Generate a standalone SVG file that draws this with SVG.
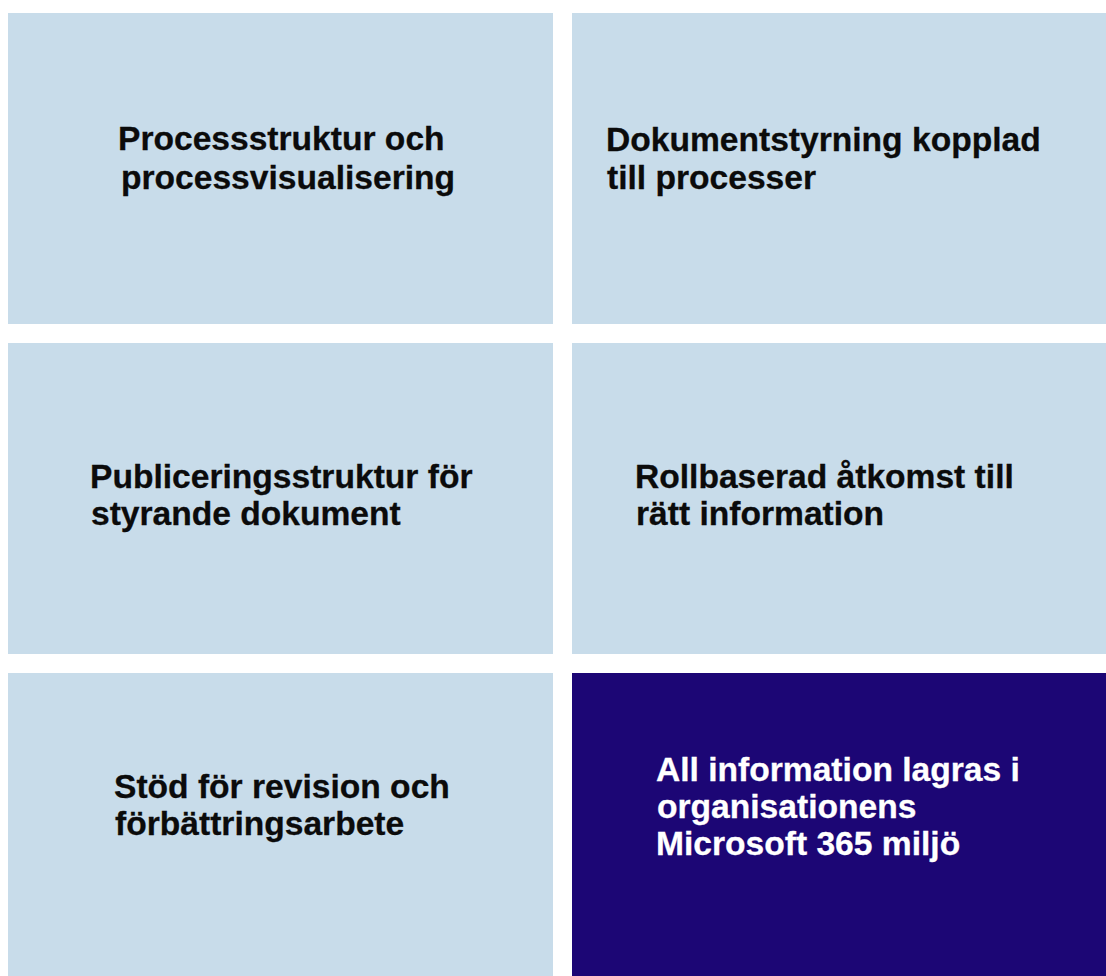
<svg xmlns="http://www.w3.org/2000/svg" width="1106" height="976" viewBox="0 0 1106 976">
<style>
.box{fill:#C8DCEA}
.dark{fill:#1C0675}
.t{font-family:"Liberation Sans",Arial,sans-serif;font-weight:bold;font-size:33.6px;fill:#0B0B0B;stroke:#0B0B0B;stroke-width:0.3px}
.w{fill:#FFFFFF;stroke:#FFFFFF}
</style>
<rect width="1106" height="976" fill="#FFFFFF"/>
<g id="node-processstruktur">
<rect class="box" x="8" y="13" width="545" height="311"/>
<text class="t" x="118" y="150">Processstruktur och</text>
<text class="t" x="121" y="189">processvisualisering</text>
</g>
<g id="node-dokumentstyrning">
<rect class="box" x="572" y="13" width="534" height="311"/>
<text class="t" x="606" y="151">Dokumentstyrning kopplad</text>
<text class="t" x="607" y="189">till processer</text>
</g>
<g id="node-publicering">
<rect class="box" x="8" y="343" width="545" height="311"/>
<text class="t" x="90" y="488">Publiceringsstruktur för</text>
<text class="t" x="91" y="525">styrande dokument</text>
</g>
<g id="node-rollbaserad">
<rect class="box" x="572" y="343" width="534" height="311"/>
<text class="t" x="635" y="488">Rollbaserad åtkomst till</text>
<text class="t" x="636" y="525">rätt information</text>
</g>
<g id="node-revision">
<rect class="box" x="8" y="673" width="545" height="303"/>
<text class="t" x="114" y="798">Stöd för revision och</text>
<text class="t" x="115" y="835">förbättringsarbete</text>
</g>
<g id="node-microsoft365">
<rect class="dark" x="572" y="673" width="534" height="303"/>
<text class="t w" x="656" y="781">All information lagras i</text>
<text class="t w" x="657" y="818">organisationens</text>
<text class="t w" x="656" y="855">Microsoft 365 miljö</text>
</g>
<g id="connectors"/>
</svg>
